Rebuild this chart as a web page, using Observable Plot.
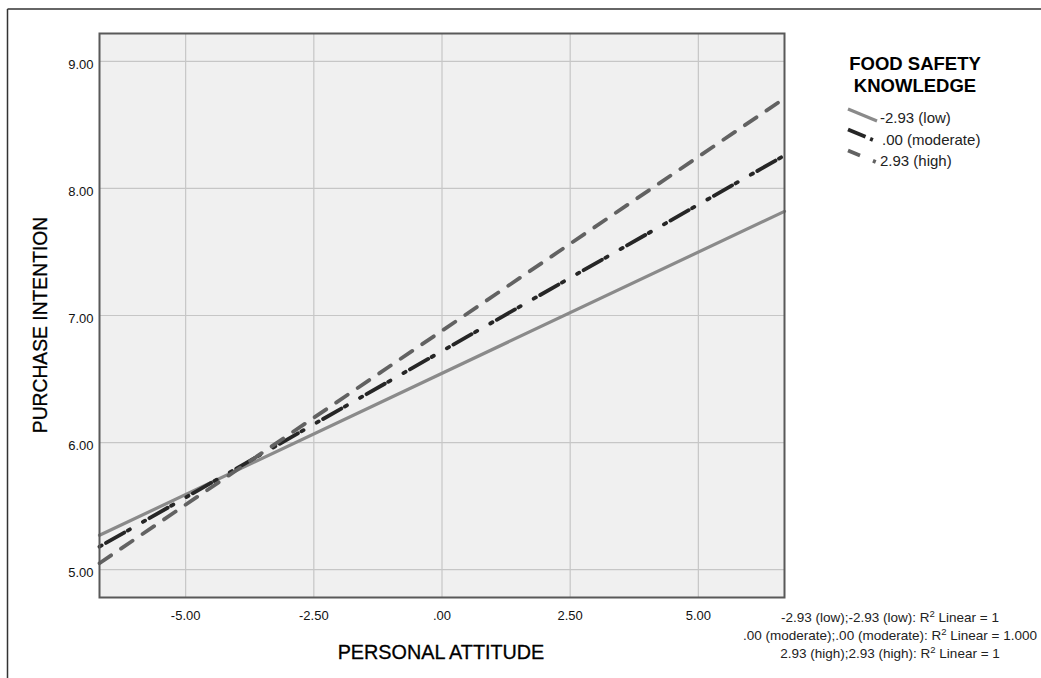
<!DOCTYPE html>
<html>
<head>
<meta charset="utf-8">
<script src="https://cdn.jsdelivr.net/npm/d3@7"></script>
<script src="https://cdn.jsdelivr.net/npm/@observablehq/plot@0.6"></script>
<style>
  html, body { margin: 0; padding: 0; background: #fff; }
  #chart { position: relative; width: 1041px; height: 678px; }
</style>
</head>
<body>
<div id="chart"></div>
<script>
// ---- data ----
const xTicks = [-5, -2.5, 0, 2.5, 5];
const xTickLabels = ["-5.00", "-2.50", ".00", "2.50", "5.00"];
const yTicks = [5, 6, 7, 8, 9];
const yTickLabels = ["5.00", "6.00", "7.00", "8.00", "9.00"];
const xDomain = [-6.68, 6.68];
const yDomain = [4.78, 9.22];

const attitude = [-6.68, 6.68];
const lowValues = [5.27, 7.82];
const moderateValues = [5.18, 8.26];
const highValues = [5.05, 8.71];

const groups = ["-2.93 (low)", ".00 (moderate)", "2.93 (high)"];
const legendTitle = ["FOOD SAFETY", "KNOWLEDGE"];
const xTitle = "PERSONAL ATTITUDE";
const yTitle = "PURCHASE INTENTION";
const fitNotes = [
  ["-2.93 (low);-2.93 (low): R", "2", " Linear = 1"],
  [".00 (moderate);.00 (moderate): R", "2", " Linear = 1.000"],
  ["2.93 (high);2.93 (high): R", "2", " Linear = 1"]
];

const toRows = (vals, g) => attitude.map((x, i) => ({ x, y: vals[i], g }));
const lowRows = toRows(lowValues, groups[0]);
const modRows = toRows(moderateValues, groups[1]);
const highRows = toRows(highValues, groups[2]);

const styles = [
  { stroke: "#8a8a8a", strokeWidth: 3.2, dash: null },
  { stroke: "#262626", strokeWidth: 3.8, dash: "2.5 5 21 4 2.5 15" },
  { stroke: "#626262", strokeWidth: 3.8, dash: "14 12" }
];

const font = "'Liberation Sans', Arial, Helvetica, sans-serif";

const svg = Plot.plot({
  width: 1041,
  height: 678,
  marginLeft: 99,
  marginRight: 257,
  marginTop: 33,
  marginBottom: 81,
  x: { domain: xDomain },
  y: { domain: yDomain },
  style: { fontFamily: font, fontSize: "13px", color: "#111", background: "#fff" },
  marks: [
    Plot.frame({ fill: "#f0f0f0" }),
    Plot.gridX(xTicks, { stroke: "#c6c6c6", strokeOpacity: 1, strokeWidth: 1.2 }),
    Plot.gridY(yTicks, { stroke: "#c6c6c6", strokeOpacity: 1, strokeWidth: 1.2 }),
    Plot.axisX(xTicks, {
      tickSize: 0, tickPadding: 13, fontSize: 13, label: null, fill: "#111",
      tickFormat: d => xTickLabels[xTicks.indexOf(d)]
    }),
    Plot.axisY(yTicks, {
      tickSize: 0, tickPadding: 6, fontSize: 13, label: null, dy: 3, fill: "#111",
      tickFormat: d => yTickLabels[yTicks.indexOf(d)]
    }),
    Plot.line(lowRows, { x: "x", y: "y", stroke: styles[0].stroke, strokeWidth: styles[0].strokeWidth }),
    Plot.line(modRows, { x: "x", y: "y", stroke: styles[1].stroke, strokeWidth: styles[1].strokeWidth, strokeDasharray: styles[1].dash }),
    Plot.line(highRows, { x: "x", y: "y", stroke: styles[2].stroke, strokeWidth: styles[2].strokeWidth, strokeDasharray: styles[2].dash }),
    Plot.frame({ stroke: "#595959", strokeWidth: 2 })
  ]
});

document.getElementById("chart").appendChild(svg);

const s = d3.select(svg);
const ov = s.append("g").attr("font-family", font).attr("fill", "#111").attr("text-anchor", "start");

// outer frame (top and left)
ov.append("line").attr("x1", 7.5).attr("y1", 9).attr("x2", 1041).attr("y2", 9)
  .attr("stroke", "#333").attr("stroke-width", 1.5);
ov.append("line").attr("x1", 7.5).attr("y1", 9).attr("x2", 7.5).attr("y2", 678)
  .attr("stroke", "#333").attr("stroke-width", 1.5);

// axis titles
ov.append("text").attr("x", 441).attr("y", 659).attr("text-anchor", "middle")
  .attr("font-size", 19.8).attr("fill", "#000").attr("stroke", "#000").attr("stroke-width", 0.3)
  .text(xTitle);
ov.append("text").attr("transform", "translate(47,325) rotate(-90)")
  .attr("text-anchor", "middle").attr("font-size", 19.3).attr("fill", "#000")
  .attr("stroke", "#000").attr("stroke-width", 0.3).text(yTitle);

// legend title
legendTitle.forEach((t, i) => {
  ov.append("text").attr("x", 915).attr("y", 70 + i * 22).attr("text-anchor", "middle")
    .attr("font-size", 18.5).attr("font-weight", "bold").attr("fill", "#000").text(t);
});

// legend swatches and labels
const sw = [
  { x1: 848, y1: 109, x2: 877, y2: 121, ty: 123, tx: 880 },
  { x1: 848, y1: 129.5, x2: 873, y2: 140, ty: 145, tx: 882 },
  { x1: 848, y1: 150.5, x2: 877, y2: 162.5, ty: 166, tx: 880 }
];
const swDash = [null, "19 5 3 100", "13 14 3 100"];
groups.forEach((g, i) => {
  const l = ov.append("line").attr("x1", sw[i].x1).attr("y1", sw[i].y1)
    .attr("x2", sw[i].x2).attr("y2", sw[i].y2)
    .attr("stroke", styles[i].stroke).attr("stroke-width", styles[i].strokeWidth);
  if (swDash[i]) l.attr("stroke-dasharray", swDash[i]);
  ov.append("text").attr("x", sw[i].tx).attr("y", sw[i].ty).attr("font-size", 15)
    .attr("text-anchor", "start").attr("fill", "#222").text(g);
});

// fit notes
fitNotes.forEach((parts, i) => {
  const t = ov.append("text").attr("x", 890).attr("y", 621.5 + i * 18)
    .attr("text-anchor", "middle").attr("font-size", 13.5).attr("fill", "#222");
  t.append("tspan").text(parts[0]);
  t.append("tspan").attr("dy", -5).attr("font-size", 9.5).text(parts[1]);
  t.append("tspan").attr("dy", 5).text(parts[2]);
});
</script>
</body>
</html>
